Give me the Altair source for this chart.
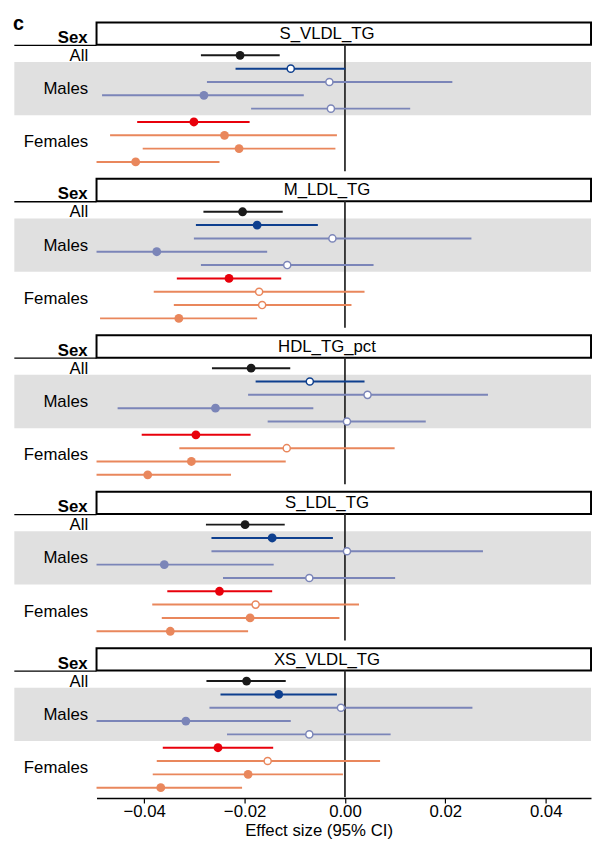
import altair as alt
import pandas as pd

FONT = "Liberation Sans"

metabolites = ["S_VLDL_TG", "M_LDL_TG", "HDL_TG_pct", "S_LDL_TG", "XS_VLDL_TG"]
row_keys = ["all", "male_main", "male_sub", "male_sub", "male_sub",
            "female_main", "female_sub", "female_sub", "female_sub"]
group_labels = ["All", "Males", "Females"]
group_rows = [0, 2.5, 6.5]

estimates = [
    [-0.0209, -0.0108, -0.0031, -0.0281, -0.0028, -0.0301, -0.0240, -0.0211, -0.0417],
    [-0.0204, -0.0175, -0.0025, -0.0375, -0.0115, -0.0231, -0.0171, -0.0165, -0.0331],
    [-0.0187, -0.0070, 0.0045, -0.0258, 0.0004, -0.0297, -0.0116, -0.0306, -0.0393],
    [-0.0199, -0.0145, 0.0004, -0.0360, -0.0071, -0.0250, -0.0178, -0.0189, -0.0348],
    [-0.0196, -0.0132, -0.0008, -0.0317, -0.0071, -0.0253, -0.0154, -0.0193, -0.0367],
]
lowers = [
    [-0.0287, -0.0218, -0.0275, -0.0484, -0.0187, -0.0414, -0.0468, -0.0403, -0.0495],
    [-0.0282, -0.0297, -0.0301, -0.0495, -0.0287, -0.0335, -0.0381, -0.0341, -0.0488],
    [-0.0265, -0.0178, -0.0193, -0.0453, -0.0154, -0.0405, -0.0330, -0.0495, -0.0495],
    [-0.0277, -0.0266, -0.0266, -0.0495, -0.0243, -0.0354, -0.0384, -0.0365, -0.0495],
    [-0.0276, -0.0248, -0.0270, -0.0495, -0.0235, -0.0363, -0.0375, -0.0383, -0.0495],
]
uppers = [
    [-0.0130, 0.0001, 0.0214, -0.0082, 0.0130, -0.0190, -0.0016, -0.0019, -0.0250],
    [-0.0124, -0.0054, 0.0252, -0.0155, 0.0057, -0.0127, 0.0039, 0.0013, -0.0175],
    [-0.0109, 0.0039, 0.0285, -0.0063, 0.0161, -0.0188, 0.0099, -0.0118, -0.0227],
    [-0.0120, -0.0024, 0.0275, -0.0142, 0.0100, -0.0145, 0.0028, -0.0011, -0.0193],
    [-0.0118, -0.0016, 0.0254, -0.0108, 0.0091, -0.0143, 0.0070, -0.0004, -0.0205],
]
significant = [
    [True, False, False, True, False, True, True, True, True],
    [True, True, False, True, False, True, False, False, True],
    [True, False, False, True, False, True, False, True, True],
    [True, True, False, True, False, True, False, True, True],
    [True, True, False, True, False, True, False, True, True],
]

key_domain = ["all", "male_main", "male_sub", "female_main", "female_sub"]
key_colors = ["#1a1a1a", "#0e3f8e", "#7b85b8", "#e8000b", "#e9875c"]
key_widths = [2.0, 2.0, 1.5, 2.0, 1.6]

W = 501
H = 153
XDOM = [-0.0495, 0.04903]
YDOM = [-2.55, 8.78]
LEFT = -83.3

xs = alt.Scale(domain=XDOM, nice=False, zero=False)
ys = alt.Scale(domain=YDOM, nice=False, zero=False, reverse=True)

label_expr = ""
for r, lab in zip(group_rows[:-1], group_labels[:-1]):
    label_expr += f"datum.value == {r} ? '{lab}' : "
label_expr += f"'{group_labels[-1]}'"

yaxis = alt.Axis(values=group_rows, labelExpr=label_expr, domain=False, ticks=False,
                 grid=False, labelPadding=9, labelFontSize=17, labelColor="black",
                 labelFont=FONT, labelOverlap=False, title=None, zindex=2)

color_scale = alt.Scale(domain=key_domain, range=key_colors)
width_scale = alt.Scale(domain=key_domain, range=key_widths)


def make_panel(i, last):
    if last:
        xaxis = alt.Axis(values=[-0.04, -0.02, 0.0, 0.02, 0.04], format=".2f",
                         labelFontSize=17, labelFont=FONT, labelColor="black",
                         titleFontSize=17, titleFont=FONT, titleColor="black",
                         titleFontWeight="normal", title="Effect size (95% CI)",
                         domainColor="black", domainWidth=1.5, tickColor="black",
                         tickWidth=1.2, tickSize=5, labelPadding=1, titlePadding=3,
                         grid=False, labelFlush=False, titleX=225, zindex=2)
    else:
        xaxis = None

    df = pd.DataFrame({
        "row": list(range(9)),
        "est": estimates[i],
        "lo": lowers[i],
        "hi": uppers[i],
        "key": row_keys,
        "sig": significant[i],
    })

    band = alt.Chart(pd.DataFrame({"y0": [0.5], "y1": [4.5]})).mark_rect(
        color="#e0e0e0").encode(
        x=alt.value(LEFT), x2=alt.value(W),
        y=alt.Y("y0:Q", scale=ys, axis=yaxis), y2="y1")

    header = alt.Chart(pd.DataFrame({"y0": [-2.47], "y1": [-0.79]})).mark_rect(
        fill="white", stroke="black", strokeWidth=2).encode(
        x=alt.value(0), x2=alt.value(W),
        y=alt.Y("y0:Q", scale=ys, axis=yaxis), y2="y1")

    title = alt.Chart(pd.DataFrame({"y": [-1.6], "t": [metabolites[i]]})).mark_text(
        fontSize=17, font=FONT, color="black", baseline="middle", align="center").encode(
        x=alt.value(233.5), y=alt.Y("y:Q", scale=ys, axis=yaxis), text="t:N")

    sex = alt.Chart(pd.DataFrame({"y": [-1.3], "t": ["Sex"]})).mark_text(
        fontSize=17, font=FONT, fontWeight="bold", color="black",
        baseline="middle", align="right").encode(
        x=alt.value(-9), y=alt.Y("y:Q", scale=ys, axis=yaxis), text="t:N")

    underline = alt.Chart(pd.DataFrame({"y": [-0.75]})).mark_rule(
        color="black", strokeWidth=1.3).encode(
        x=alt.value(LEFT), x2=alt.value(0),
        y=alt.Y("y:Q", scale=ys, axis=yaxis))

    zero = alt.Chart(pd.DataFrame({"x": [0.0], "y0": [-0.79], "y1": [8.7]})).mark_rule(
        color="#2b2b2b", strokeWidth=1.8).encode(
        x=alt.X("x:Q", scale=xs, axis=xaxis),
        y=alt.Y("y0:Q", scale=ys, axis=yaxis), y2="y1")

    ci = alt.Chart(df).mark_rule().encode(
        x=alt.X("lo:Q", scale=xs, axis=xaxis), x2="hi",
        y=alt.Y("row:Q", scale=ys, axis=yaxis),
        color=alt.Color("key:N", scale=color_scale, legend=None),
        strokeWidth=alt.StrokeWidth("key:N", scale=width_scale, legend=None))

    pts_f = alt.Chart(df).transform_filter("datum.sig").mark_circle(
        size=80, opacity=1).encode(
        x=alt.X("est:Q", scale=xs, axis=xaxis),
        y=alt.Y("row:Q", scale=ys, axis=yaxis),
        color=alt.Color("key:N", scale=color_scale, legend=None))

    pts_o = alt.Chart(df).transform_filter("!datum.sig").mark_point(
        shape="circle", filled=False, fill="white", size=52, strokeWidth=1.5,
        opacity=1).encode(
        x=alt.X("est:Q", scale=xs, axis=xaxis),
        y=alt.Y("row:Q", scale=ys, axis=yaxis),
        color=alt.Color("key:N", scale=color_scale, legend=None))

    layers = [band, header, title, sex, underline, zero, ci, pts_f, pts_o]
    if i == 0:
        clab = alt.Chart(pd.DataFrame({"y": [-1.93], "t": ["c"]})).mark_text(
            fontSize=20, font=FONT, fontWeight="bold", color="black",
            baseline="alphabetic", align="left").encode(
            x=alt.value(-84.6), y=alt.Y("y:Q", scale=ys, axis=yaxis), text="t:N")
        layers.append(clab)

    return alt.layer(*layers).properties(width=W, height=H)


panels = [make_panel(i, i == len(metabolites) - 1) for i in range(len(metabolites))]

chart = alt.vconcat(*panels, spacing=5.5, bounds="flush").properties(
    padding={"left": 4.7, "top": 0, "right": 0, "bottom": 0}
).configure_view(stroke=None).resolve_scale(color="shared")

chart.save("out.html", embed_options={"renderer": "svg", "actions": False})
